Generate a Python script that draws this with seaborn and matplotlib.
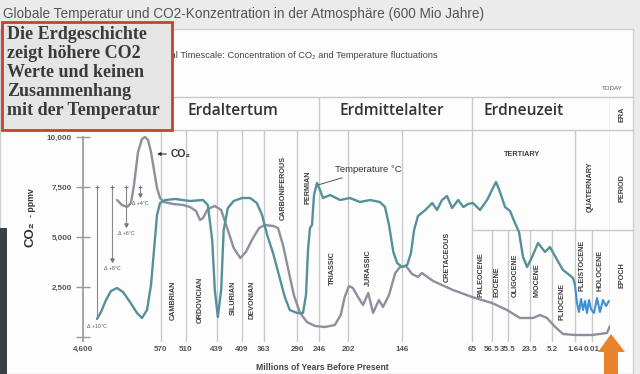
import matplotlib
matplotlib.use("Agg")
import matplotlib.pyplot as plt
import matplotlib.patches as mpatches
import numpy as np
import pandas as pd
import seaborn as sns

# Geological boundaries (Ma) shown as x tick labels
TICK_AGES = [4600, 570, 510, 439, 409, 363, 290, 246, 202, 146, 65, 56.5, 35.5, 23.5, 5.2, 1.64, 0.01]
TICK_LABELS = ['4,600', '570', '510', '439', '409', '363', '290', '246', '202', '146',
               '65', '56.5', '35.5', '23.5', '5.2', '1.64', '0.01']
Y_TICKS = [0, 2500, 5000, 7500, 10000]
Y_LABELS = ['', '2,500', '5,000', '7,500', '10,000']

# Temperature curve (in CO2 axis units)
TEMP_AGE = [3877, 3670, 3412, 3153, 2843, 2533, 2171, 1810, 1551, 1293,
            1087, 931, 776, 621, 560, 536, 501, 471, 460, 450,
            444, 438, 434, 431, 426, 419, 409, 392, 378, 367,
            356, 343, 330, 317, 306, 290, 278, 272, 268, 264,
            260, 256, 250, 244.5, 240, 229, 214, 200, 189.6, 179,
            169, 163.6, 159.5, 155, 151, 146, 140, 135.6, 132, 127.5,
            119, 111, 105.5, 99.7, 94, 88, 81, 75, 69.6, 64.6,
            61.6, 58.6, 56.5, 51.25, 46, 39.4, 34.4, 31.7, 29.5, 27.3,
            25.1, 21.8, 16.8, 11, 6.9, 4.4, 3.5, 2.7, 1.95, 1.64]
TEMP_VAL = [888, 1239, 1840, 2292, 2442, 2242, 1740, 1189, 938, 1339,
            2593, 4348, 6103, 6705, 6855, 6906, 6805, 6855, 6605, 4850,
            2342, 988, 2342, 5351, 6454, 6805, 6956, 6956, 6705, 6103,
            5100, 4198, 3094, 1991, 1339, 1189, 1189, 2091, 4348, 5451,
            5602, 7106, 7708, 7357, 6956, 7106, 6855, 6956, 6755, 6855,
            6755, 6504, 5602, 4248, 3696, 3496, 3596, 4198, 5351, 6053,
            6354, 6705, 6354, 6855, 7056, 6454, 6855, 6504, 6655, 6705,
            6354, 6855, 7357, 7758, 7257, 6504, 6304, 5702, 5251, 3997,
            3496, 3997, 4699, 4248, 4498, 3847, 3345, 3144, 2944, 2593]

# Ice age oscillations (Pleistocene / Holocene)
ICE_AGE = [1.64, 1.45, 1.26, 1.06, 0.87, 0.68, 0.49, 0.30, 0.11, 0.0089,
           0.0072, 0.0056, 0.0039, 0.0022, 0.0006]
ICE_VAL = [2593, 1690, 1239, 1891, 1339, 1790, 1189, 1840, 1389, 1189,
           1941, 1239, 1840, 1540, 1790]

# CO2 curve (ppmv)
CO2_AGE = [2843, 2585, 2327, 2120, 1965, 1758, 1551, 1396, 1241, 1087,
           931, 776, 621, 563, 541, 517, 501, 487, 478, 471,
           460, 444, 434, 426, 419, 411, 401, 386, 373, 361,
           343, 332, 321, 310, 297, 284, 270, 254, 237, 222,
           213, 207, 201, 197, 191.6, 186.4, 181, 176, 170, 165.7,
           159.5, 153, 148, 141.4, 134.4, 127.5, 123, 110, 87, 65,
           56.5, 36.8, 29, 21, 15.2, 9.4, 4.7, 3.5, 1.64, 0.01,
           0.0017, 0]
CO2_VAL = [6855, 6605, 6504, 6705, 7608, 9263, 9915, 10015, 9865, 9263,
           8360, 7457, 6956, 6755, 6655, 6605, 6504, 6304, 5853, 5953,
           6404, 6555, 6354, 5351, 4448, 3947, 4248, 4950, 5451, 5602,
           5552, 5451, 4599, 3445, 2091, 1189, 737, 537, 486, 587,
           1088, 1991, 2543, 2442, 1991, 1590, 2192, 1189, 1840, 1489,
           2091, 3195, 3496, 3546, 3144, 2994, 3195, 2793, 2342, 1991,
           1690, 1339, 938, 938, 1088, 938, 486, 135, 85, 85,
           186, 537]

# Precambrian temperature deltas
DELTA_AGES = [3877, 3102, 2378, 1655]
DELTA_LOW = [938, 3847, 5602, 7106]
DELTA_LABELS = ['Δ +10°C', 'Δ +8°C', 'Δ +6°C', 'Δ +4°C']

PERIODS = ['CAMBRIAN', 'ORDOVICIAN', 'SILURIAN', 'DEVONIAN', 'CARBONIFEROUS', 'PERMIAN',
           'TRIASSIC', 'JURASSIC', 'CRETACEOUS', 'QUATERNARY', 'PALEOCENE', 'EOCENE',
           'OLIGOCENE', 'MIOCENE', 'PLIOCENE', 'PLEISTOCENE', 'HOLOCENE']
PERIOD_AGE = [541, 478, 420, 388, 321, 268, 226, 181, 94, 0.2, 61.2, 50, 31.7, 17.7, 3.65, 0.97, 0.0056]
PERIOD_PY = [300, 300, 298, 300, 188, 187, 268, 268, 257, 187, 275, 282, 275, 280, 301, 265, 270]

ERAS = ['Erdaltertum', 'Erdmittelalter', 'Erdneuzeit']
ERA_AGE = [420, 157, 26.8]

# non-linear time axis of the original chart: boundary age -> position
SCALE_AGES = [4600, 570, 510, 439, 409, 363, 290, 246, 202, 146, 65, 56.5, 35.5, 23.5, 5.2, 1.64, 0.01, 0]
SCALE_POS = [0, 78, 103, 134, 159, 181, 214, 236, 265, 319, 389, 409, 425, 447, 469, 492, 509, 527]

TEAL = '#55909b'
GREY = '#8e8f9c'
ICE = '#3f8fd4'
LINE = '#c9c9c9'

sns.set_theme(style="white")
plt.rcParams['font.family'] = ['Liberation Sans', 'DejaVu Sans']

W, H = 640, 374
fig = plt.figure(figsize=(6.4, 3.74), dpi=100, facecolor='#ebebeb')


def fx(px):
    return px / W


def fy(py):
    return 1 - py / H


def yfrac(py):
    # pixel row -> axes fraction (axes spans rows 97..342)
    return (342 - py) / 245


# white slide panel
fig.add_artist(mpatches.Rectangle((0, 0), fx(633), fy(29), transform=fig.transFigure,
                                  fc='#fdfdfd', ec='#d0d0d0', lw=1, zorder=-2))
# video strip on the left edge
fig.add_artist(mpatches.Rectangle((0, 0), fx(7), fy(228), transform=fig.transFigure,
                                  fc='#3a4048', ec='none', zorder=-1))

ax = fig.add_axes([fx(83), fy(342), (610 - 83) / W, (342 - 97) / H])
ax.patch.set_alpha(0)

age_asc = np.array(SCALE_AGES[::-1], dtype=float)
pos_for_age = np.array(SCALE_POS[::-1], dtype=float)


def forward(a):
    return np.interp(a, age_asc, pos_for_age)


def inverse(p):
    return np.interp(p, np.array(SCALE_POS, dtype=float), np.array(SCALE_AGES, dtype=float))


ax.set_xscale('function', functions=(forward, inverse))

temp_df = pd.DataFrame({'age': TEMP_AGE, 'value': TEMP_VAL})
ice_df = pd.DataFrame({'age': ICE_AGE, 'value': ICE_VAL})
co2_df = pd.DataFrame({'age': CO2_AGE, 'value': CO2_VAL})

sns.lineplot(data=co2_df, x='age', y='value', sort=False, estimator=None,
             color=GREY, lw=1.7, ax=ax, zorder=3)
sns.lineplot(data=temp_df, x='age', y='value', sort=False, estimator=None,
             color=TEAL, lw=1.7, ax=ax, zorder=4)
sns.lineplot(data=ice_df, x='age', y='value', sort=False, estimator=None,
             color=ICE, lw=1.5, ax=ax, zorder=4)

# the scale function decreases with age, so these limits put 4,600 Ma on the left
ax.set_xlim(0, 4600)
ax.set_ylim(-266, 12021)
ax.set_xlabel('')
ax.set_ylabel('')

# boundary lines of the timescale
tr = ax.get_xaxis_transform()
ax.vlines([570, 246, 65, 0], 0, 1, transform=tr, color=LINE, lw=1, zorder=1)
ax.vlines([510, 439, 409, 363, 290, 202, 146, 1.64], 0, yfrac(130), transform=tr,
          color=LINE, lw=1, zorder=1)
ax.vlines([56.5, 35.5, 23.5, 5.2, 0.01], 0, yfrac(230), transform=tr, color=LINE, lw=1, zorder=1)
ax.plot([0, 1.044], [1, 1], transform=ax.transAxes, color=LINE, lw=1, clip_on=False)
ax.plot([0, 1.044], [yfrac(130), yfrac(130)], transform=ax.transAxes, color=LINE, lw=1, clip_on=False)
ax.hlines(yfrac(230), 65, 0, transform=tr, color=LINE, lw=1)
ax.plot([1, 1.044], [yfrac(230), yfrac(230)], transform=ax.transAxes, color=LINE, lw=1, clip_on=False)

for name, age, py in zip(PERIODS, PERIOD_AGE, PERIOD_PY):
    ax.text(age, yfrac(py), name, transform=tr, rotation=90, ha='center', va='center',
            fontsize=5.2, fontweight='bold', color='#3c3c3c')
ax.text(27.9, yfrac(155), 'TERTIARY', transform=tr, ha='center', va='center',
        fontsize=5.2, fontweight='bold', color='#3c3c3c')
for name, age in zip(ERAS, ERA_AGE):
    ax.text(age, yfrac(111), name, transform=tr, ha='center', va='center',
            fontsize=11.2, fontweight='semibold', family=['Open Sans', 'DejaVu Sans'],
            color='#333333')
for name, py in zip(['ERA', 'PERIOD', 'EPOCH'], [114, 188, 275]):
    ax.text(1.0228, yfrac(py), name, transform=ax.transAxes, rotation=90, ha='center',
            va='center', fontsize=5.2, fontweight='bold', color='#3c3c3c')

# precambrian delta markers
ax.vlines(DELTA_AGES, DELTA_LOW, 7500, color='#8a8a8a', lw=0.8, zorder=2)
ax.scatter(DELTA_AGES, [7500] * 4, marker='+', s=10, color='#777777', lw=0.8, zorder=2)
ax.scatter(DELTA_AGES[1:], DELTA_LOW[1:], marker='v', s=5, color='#777777', zorder=2)
for age, low, lab in zip(DELTA_AGES, DELTA_LOW, DELTA_LABELS):
    ax.text(age, low - 420, lab, ha='center', va='center', fontsize=3.8, color='#555555')

# curve annotations
ax.annotate('CO₂', xy=(776, 9162), xytext=(546, 9162), fontsize=7.5, fontweight='bold',
            color='#333333', ha='left', va='center',
            arrowprops=dict(arrowstyle='-|>', color='#333333', lw=0.8, mutation_scale=5,
                            shrinkA=1, shrinkB=0))
ax.annotate('Temperature °C', xy=(248, 7608), xytext=(222, 8360), fontsize=6.8,
            color='#333333', ha='left', va='center',
            arrowprops=dict(arrowstyle='-', color='#555555', lw=0.7, shrinkA=0, shrinkB=1))

# axes styling
sns.despine(ax=ax, left=False, bottom=True, top=True, right=True)
ax.spines['left'].set_color('#9a9a9a')
ax.spines['left'].set_bounds(-200, 10000)
ax.set_yticks(Y_TICKS, Y_LABELS)
ax.set_xticks(TICK_AGES, TICK_LABELS)
ax.tick_params(axis='y', direction='inout', length=10, width=1, color='#9a9a9a', pad=3,
               labelsize=5.8, labelcolor='#555555', left=True)
ax.tick_params(axis='x', length=0, pad=3, labelsize=5.8, labelcolor='#555555')
for lab in ax.get_xticklabels() + ax.get_yticklabels():
    lab.set_fontweight('bold')

fig.text(fx(322), fy(367), 'Millions of Years Before Present', ha='center', va='center',
         fontsize=6.2, fontweight='bold', color='#444444')
fig.text(fx(30), fy(234), 'CO₂', rotation=90, ha='center', va='center', fontsize=9.5,
         fontweight='bold', color='#333333')
fig.text(fx(31), fy(203), '- ppmv', rotation=90, ha='center', va='center', fontsize=6.3,
         fontweight='bold', color='#333333')
fig.text(fx(612), fy(88), 'TODAY', ha='center', va='center', fontsize=4.5, color='#555555')

# slide title and subtitle
fig.text(fx(3), fy(14), 'Globale Temperatur und CO2-Konzentration in der Atmosphäre (600 Mio Jahre)',
         ha='left', va='center', fontsize=9.85, color='#555555')
fig.text(fx(134), fy(55), 'Geological Timescale: Concentration of CO₂ and Temperature fluctuations',
         ha='left', va='center', fontsize=6.7, color='#444444', zorder=2)

# red comment box
fig.add_artist(mpatches.Rectangle((fx(2), fy(130)), 170 / W, 108 / H, transform=fig.transFigure,
                                  fc='#e5e5e5', ec='#c4432f', lw=2, zorder=5))
fig.text(fx(7), fy(26), 'Die Erdgeschichte\nzeigt höhere CO2\nWerte und keinen\nZusammenhang\nmit der Temperatur',
         ha='left', va='top', fontsize=13, family=['Liberation Serif', 'DejaVu Serif'],
         fontweight='bold', color='#3a3a3a', linespacing=1.15, zorder=6)

# orange arrow pointing at today
arrow = [(598, 352), (611, 334), (625, 352), (618, 352), (618, 374), (604, 374), (604, 352)]
fig.add_artist(mpatches.Polygon([(fx(a), fy(b)) for a, b in arrow], closed=True,
                                transform=fig.transFigure, fc='#e8832b', ec='none', zorder=5))

fig.savefig('out.png', dpi=100, facecolor=fig.get_facecolor())
